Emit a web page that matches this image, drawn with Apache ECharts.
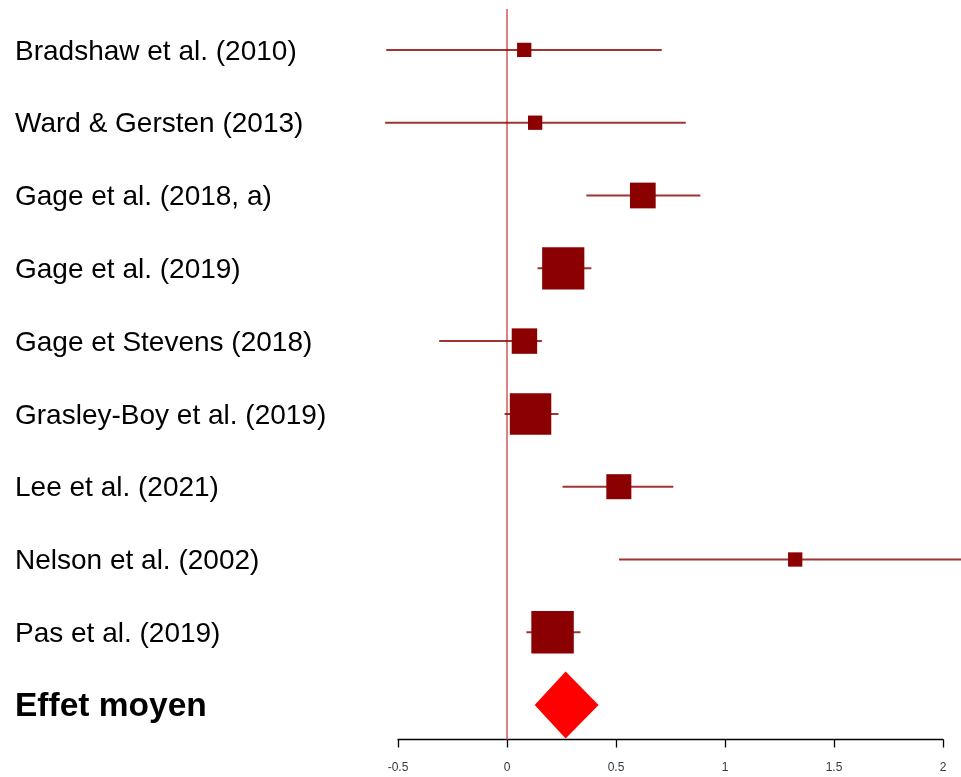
<!DOCTYPE html>
<html>
<head>
<meta charset="utf-8">
<script src="https://cdn.jsdelivr.net/npm/echarts@6/dist/echarts.min.js"></script>
<style>
  html, body { margin: 0; padding: 0; background: #fff; }
  #chart { width: 961px; height: 777px; }
</style>
</head>
<body>
<div id="chart"></div>
<script>
// Études incluses dans la méta-analyse (de haut en bas)
const etudes = [
  'Bradshaw et al. (2010)',
  'Ward & Gersten (2013)',
  'Gage et al. (2018, a)',
  'Gage et al. (2019)',
  'Gage et Stevens (2018)',
  'Grasley-Boy et al. (2019)',
  'Lee et al. (2021)',
  'Nelson et al. (2002)',
  'Pas et al. (2019)'
];
// Taille d'effet estimée et intervalle de confiance à 95 %
const estimations = [0.079, 0.129, 0.623, 0.258, 0.080, 0.108, 0.513, 1.322, 0.209];
const bornesInf   = [-0.554, -0.559, 0.364, 0.140, -0.311, -0.011, 0.255, 0.514, 0.089];
const bornesSup   = [0.710, 0.820, 0.887, 0.387, 0.160, 0.236, 0.763, 2.130, 0.337];
// Poids relatif de chaque étude (côté du carré)
const poids       = [1.0, 1.0, 1.8, 2.95, 1.78, 2.9, 1.75, 1.0, 2.97];
// Effet moyen combiné
const libelleResume = 'Effet moyen';
const effetMoyen    = 0.269;
const effetMoyenIC  = [0.127, 0.420];
// Graduations de l'axe des effets
const graduations = ['-0.5', '0', '0.5', '1', '1.5', '2'];

const COTE_UNITE = 14.3;      // côté en px d'un carré de poids 1
const DEMI_HAUTEUR_LOSANGE = 33.5;

const categories = etudes.concat([libelleResume]);
const lignesEtudes = estimations.map((e, i) => [e, i, bornesInf[i], bornesSup[i], poids[i]]);

const chart = echarts.init(document.getElementById('chart'), null, { renderer: 'canvas' });

chart.setOption({
  animation: false,
  backgroundColor: '#ffffff',
  grid: { left: 398, right: 18, top: 13.5, height: 728, containLabel: false },
  xAxis: {
    type: 'value',
    min: -0.5,
    max: 2,
    interval: 0.5,
    offset: -2,
    axisLine: { show: true, lineStyle: { color: '#000', width: 1.3 } },
    axisTick: { show: true, inside: false, length: 8, lineStyle: { color: '#000', width: 1.3 } },
    axisLabel: {
      margin: 22,
      fontSize: 12,
      color: '#333a44',
      fontFamily: 'Liberation Sans, Arial, sans-serif',
      formatter: v => graduations[Math.round((v + 0.5) / 0.5)]
    },
    splitLine: { show: false }
  },
  yAxis: {
    type: 'category',
    data: categories,
    inverse: true,
    axisLine: { show: false, onZero: false },
    axisTick: { show: false },
    splitLine: { show: false },
    axisLabel: {
      margin: 383,
      align: 'left',
      fontSize: 28,
      color: '#000',
      padding: [4, 0, 0, 0],
      fontFamily: 'Liberation Sans, Arial, sans-serif',
      formatter: (v, i) => (i === etudes.length ? '{b|' + v + '}' : v),
      rich: {
        b: { fontSize: 33.5, fontWeight: 'bold', color: '#000', fontFamily: 'Liberation Sans, Arial, sans-serif' }
      }
    }
  },
  series: [
    {
      // Ligne de référence à effet nul
      type: 'custom',
      clip: false,
      z: 1,
      data: [[0, 0]],
      renderItem: (params, api) => {
        const cs = params.coordSys;
        const x = api.coord([api.value(0), 0])[0];
        return {
          type: 'line',
          shape: { x1: x, y1: cs.y - 4.5, x2: x, y2: cs.y + cs.height - 2 },
          style: { stroke: '#cc5a5a', lineWidth: 1.5 }
        };
      }
    },
    {
      // Études : intervalle de confiance + carré pondéré
      type: 'custom',
      clip: false,
      z: 2,
      encode: { x: 0, y: 1 },
      data: lignesEtudes,
      renderItem: (params, api) => {
        const row = api.value(1);
        const c = api.coord([api.value(0), row]);
        const pLo = api.coord([api.value(2), row]);
        const pHi = api.coord([api.value(3), row]);
        const cote = COTE_UNITE * api.value(4);
        return {
          type: 'group',
          children: [
            {
              type: 'line',
              shape: { x1: pLo[0], y1: c[1], x2: pHi[0], y2: c[1] },
              style: { stroke: '#8B0000', lineWidth: 2, opacity: 0.8 }
            },
            {
              type: 'rect',
              shape: { x: c[0] - cote / 2, y: c[1] - cote / 2, width: cote, height: cote },
              style: { fill: '#8B0000' }
            }
          ]
        };
      }
    },
    {
      // Effet moyen : losange
      type: 'custom',
      clip: false,
      z: 3,
      encode: { x: 0, y: 1 },
      data: [[effetMoyen, etudes.length, effetMoyenIC[0], effetMoyenIC[1]]],
      renderItem: (params, api) => {
        const row = api.value(1);
        const c = api.coord([api.value(0), row]);
        const pLo = api.coord([api.value(2), row]);
        const pHi = api.coord([api.value(3), row]);
        return {
          type: 'polygon',
          shape: {
            points: [
              [pLo[0], c[1]],
              [c[0], c[1] - DEMI_HAUTEUR_LOSANGE],
              [pHi[0], c[1]],
              [c[0], c[1] + DEMI_HAUTEUR_LOSANGE]
            ]
          },
          style: { fill: '#FF0000' }
        };
      }
    }
  ]
});
</script>
</body>
</html>
